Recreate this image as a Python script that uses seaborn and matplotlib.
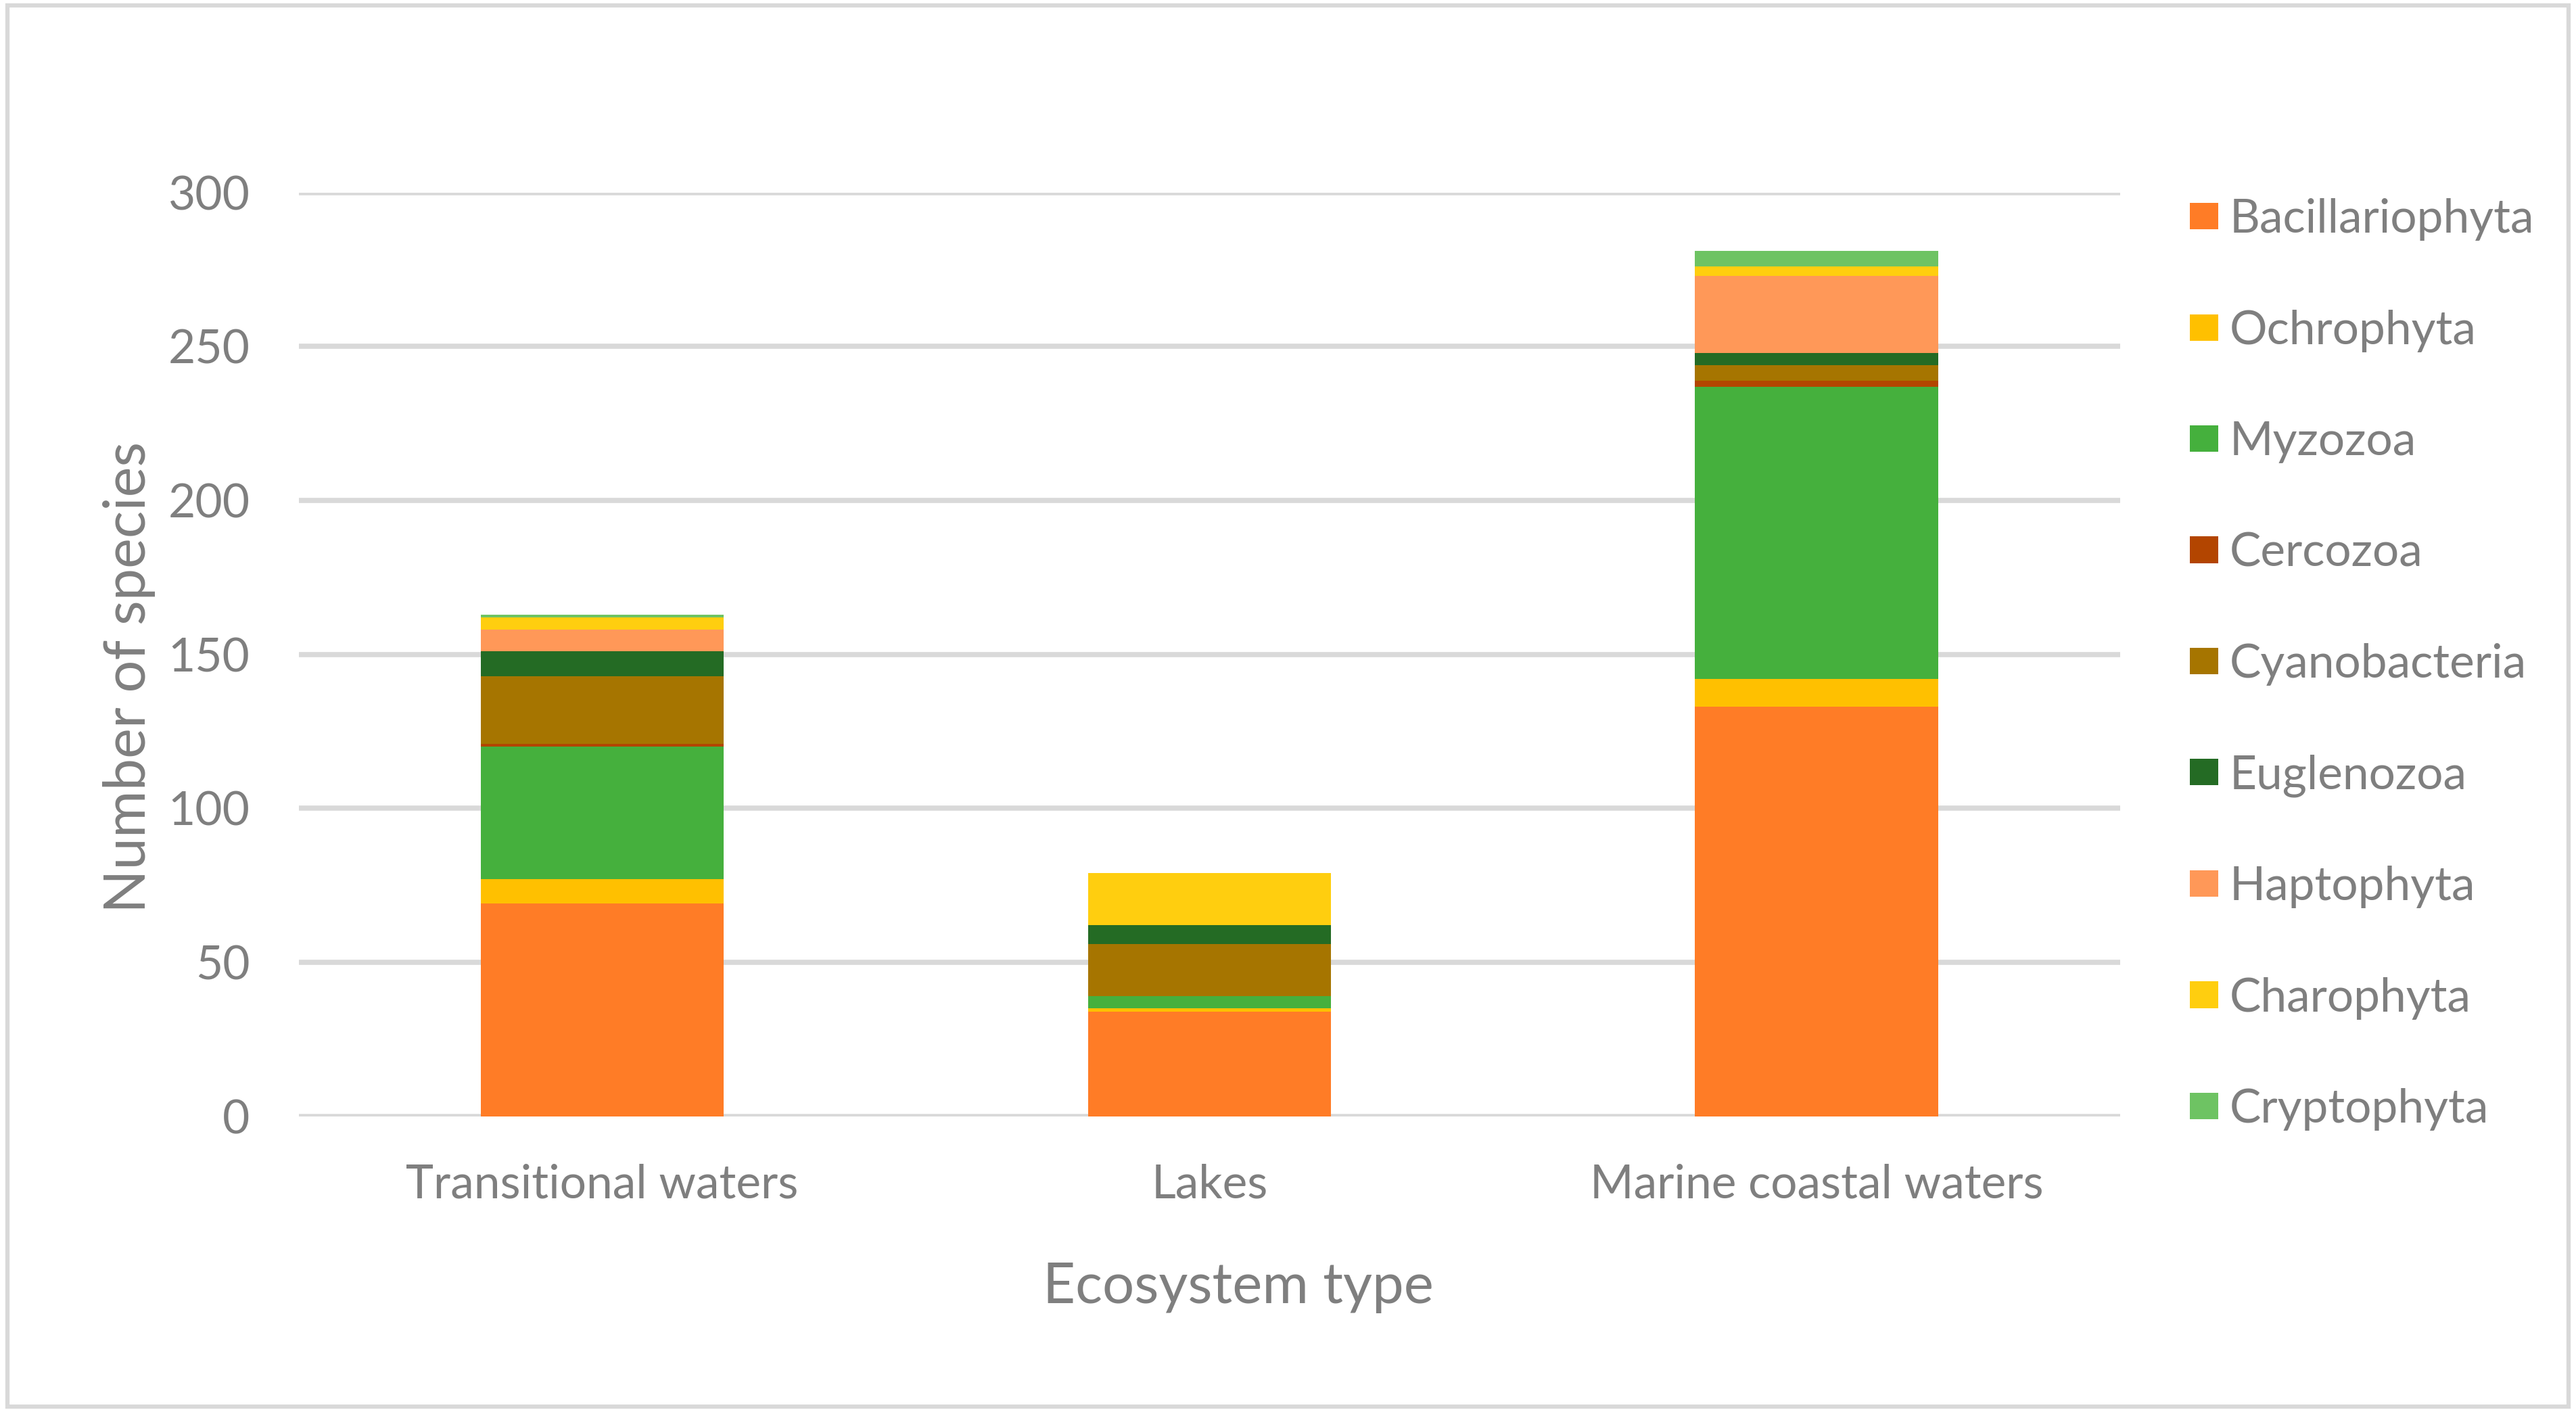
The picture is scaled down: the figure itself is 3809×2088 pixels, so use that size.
import matplotlib
matplotlib.use("Agg")
import matplotlib.pyplot as plt
from matplotlib.patches import Rectangle, Patch
import seaborn as sns
import numpy as np

# categories and series (number of species per phylum)
ecosystems = ["Transitional waters", "Lakes", "Marine coastal waters"]
taxa = ["Bacillariophyta", "Ochrophyta", "Myzozoa", "Cercozoa", "Cyanobacteria",
        "Euglenozoa", "Haptophyta", "Charophyta", "Cryptophyta"]
bacillariophyta = [69, 34, 133]
ochrophyta = [8, 1, 9]
myzozoa = [43, 4, 95]
cercozoa = [1, 0, 2]
cyanobacteria = [22, 17, 5]
euglenozoa = [8, 6, 4]
haptophyta = [7, 0, 25]
charophyta = [4, 17, 3]
cryptophyta = [1, 0, 5]
y_ticks = [0, 50, 100, 150, 200, 250, 300]

series = [bacillariophyta, ochrophyta, myzozoa, cercozoa, cyanobacteria,
          euglenozoa, haptophyta, charophyta, cryptophyta]
colors = ["#FF7C26", "#FFC000", "#45B03D", "#B34500", "#A67500",
          "#246B24", "#FF9858", "#FFCE0F", "#6EC363"]

sns.set_style("white")
plt.rcParams['font.family'] = ['Lato', 'DejaVu Sans']
text_grey = "#7F7F7F"
grid_grey = "#D9D9D9"

fig = plt.figure(figsize=(38.09, 20.88), dpi=100)
ax = fig.add_axes([0.116, 0.2095, 0.707, 0.6541])

# stacked bars
bottom = np.zeros(len(ecosystems))
for name, vals, col in zip(taxa, series, colors):
    sns.barplot(x=ecosystems, y=vals, bottom=bottom, color=col, width=0.4,
                ax=ax, saturation=1, linewidth=0, label=name)
    bottom = bottom + np.array(vals)

ax.set_ylim(0, 300)
ax.set_xlim(-0.5, 2.5)
ax.set_yticks(y_ticks)
ax.yaxis.grid(True, color=grid_grey, linewidth=5.5)
ax.set_axisbelow(True)
for s in ax.spines.values():
    s.set_visible(False)
ax.tick_params(axis='both', length=0, labelsize=50, labelcolor=text_grey)
ax.tick_params(axis='x', pad=50)
ax.tick_params(axis='y', pad=52)

ax.set_xlabel("Ecosystem type", fontsize=60, color=text_grey, labelpad=60)
ax.set_ylabel("Number of species", fontsize=61, color=text_grey)
ax.xaxis.label.set_x(0.516)
ax.yaxis.set_label_coords(-0.0787, 0.4756)

handles = [Patch(facecolor=c, edgecolor='none') for c in colors]
ax.legend(handles, taxa, loc='upper left', bbox_to_anchor=(1.028, 1.014),
          frameon=False, fontsize=50, labelcolor=text_grey,
          handlelength=0.6, handleheight=0.49, handletextpad=0.25,
          labelspacing=1.46, borderaxespad=0)

# chart area border
fig.patches.append(Rectangle((0.003, 0.004), 0.994, 0.992, transform=fig.transFigure,
                             fill=False, edgecolor=grid_grey, linewidth=4.5))

fig.savefig("out.png", dpi=100, facecolor="white")
